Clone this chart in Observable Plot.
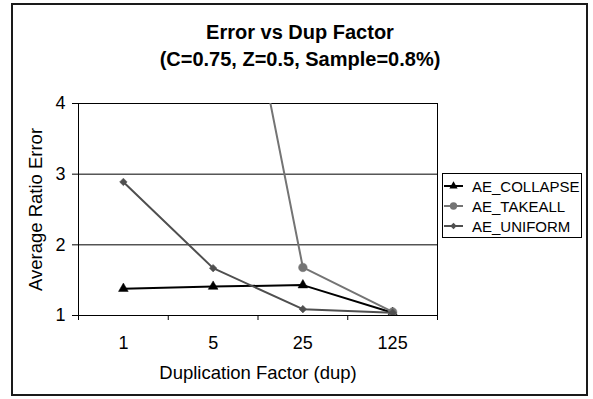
<!DOCTYPE html>
<html>
<head>
<meta charset="utf-8">
<script src="https://cdn.jsdelivr.net/npm/d3@7"></script>
<script src="https://cdn.jsdelivr.net/npm/@observablehq/plot@0.6"></script>
<style>
  body { margin: 0; background: #fff; font-family: "Liberation Sans", Arial, sans-serif; }
  #wrap { position: relative; width: 593px; height: 399px; overflow: hidden; }
  #wrap svg.plot { position: absolute; left: 0; top: 0; }
  #border { position: absolute; left: 11px; top: 3px; width: 577px; height: 393px; box-sizing: border-box; border: 2px solid #1a1a1a; }
  #title { position: absolute; left: 0; width: 600px; top: 19px; text-align: center; font-weight: bold; font-size: 20px; line-height: 27px; color: #000; }
  #legend { position: absolute; left: 442px; top: 173px; width: 140px; height: 65px; box-sizing: border-box; border: 1px solid #000; background: #fff; padding-top: 2px; }
  .lrow { display: flex; align-items: center; height: 20px; font-size: 15px; color: #000; }
  .lrow svg { margin-left: 0px; margin-right: 8px; }
</style>
</head>
<body>
<div id="wrap">
  <div id="border"></div>
  <div id="title">Error vs Dup Factor<br>(C=0.75, Z=0.5, Sample=0.8%)</div>
</div>
<script>
// ---- data ----
const categories = ["1", "5", "25", "125"];
const seriesNames = ["AE_COLLAPSE", "AE_TAKEALL", "AE_UNIFORM"];
const collapse = [1.38, 1.41, 1.43, 1.04];
const takeall = [null, 8.1, 1.68, 1.05];
const uniform = [2.89, 1.67, 1.09, 1.04];
const yTicks = [1, 2, 3, 4];
const xTitle = "Duplication Factor (dup)";
const yTitle = "Average Ratio Error";

const colors = {AE_COLLAPSE: "#000000", AE_TAKEALL: "#747474", AE_UNIFORM: "#4f4f4f"};
const symbols = {AE_COLLAPSE: "triangle", AE_TAKEALL: "circle", AE_UNIFORM: "diamond2"};
const radii = {AE_COLLAPSE: 3.6, AE_TAKEALL: 4.3, AE_UNIFORM: 3.4};

const valuesBySeries = {AE_COLLAPSE: collapse, AE_TAKEALL: takeall, AE_UNIFORM: uniform};
const rows = [];
for (const s of seriesNames) {
  valuesBySeries[s].forEach((v, i) => rows.push({series: s, xi: i + 1, cat: categories[i], value: v}));
}

const marks = [
  Plot.ruleY(yTicks.slice(1), {stroke: "#000", strokeWidth: 1}),
  Plot.frame({stroke: "#000", strokeWidth: 1}),
  Plot.axisY({ticks: yTicks, tickSize: 6, tickPadding: 7, label: null, fontSize: 18, tickFormat: d => String(d)}),
  Plot.axisX({ticks: d3.range(0.5, categories.length + 1, 1), tickSize: 5, tickFormat: () => "", label: null}),
  Plot.axisX({ticks: d3.range(1, categories.length + 1), tickSize: 0, tickPadding: 21, tickFormat: d => categories[d - 1], label: null, fontSize: 18}),
  Plot.text([xTitle], {frameAnchor: "bottom", dy: 63, text: d => d, fontSize: 18.5}),
  Plot.text([yTitle], {frameAnchor: "left", textAnchor: "middle", dx: -42, rotate: -90, text: d => d, fontSize: 18.5})
];
for (const s of seriesNames) {
  const data = rows.filter(r => r.series === s);
  marks.push(Plot.line(data, {x: "xi", y: "value", stroke: colors[s], strokeWidth: 2, clip: "frame"}));
  marks.push(Plot.dot(data.filter(d => d.value != null), {x: "xi", y: "value", fill: colors[s], stroke: colors[s], strokeWidth: 0.5, symbol: symbols[s], r: radii[s], clip: "frame"}));
}

const chart = Plot.plot({
  width: 593,
  height: 399,
  marginLeft: 78,
  marginRight: 156,
  marginTop: 103,
  marginBottom: 84,
  style: {fontFamily: "'Liberation Sans', Arial, sans-serif", fontSize: "18px", background: "transparent", color: "#000", overflow: "visible"},
  x: {type: "linear", domain: [0.5, categories.length + 0.5], axis: null},
  y: {type: "linear", domain: [1, 4], axis: null},
  marks
});
chart.classList.add("plot");
document.getElementById("wrap").appendChild(chart);

// legend
const legend = document.createElement("div");
legend.id = "legend";
const symType = {triangle: d3.symbolTriangle, circle: d3.symbolCircle, diamond2: d3.symbolDiamond2};
for (const s of seriesNames) {
  const row = document.createElement("div");
  row.className = "lrow";
  const rr = radii[s] * 0.85;
  const sym = d3.symbol(symType[symbols[s]], Math.PI * rr * rr)();
  row.innerHTML = `<svg width="21" height="20"><line x1="1" x2="20" y1="10" y2="10" stroke="${colors[s]}" stroke-width="2"/>` +
    `<path transform="translate(10.5,10)" d="${sym}" fill="${colors[s]}"/></svg><span>${s}</span>`;
  legend.appendChild(row);
}
document.getElementById("wrap").appendChild(legend);
</script>
</body>
</html>
